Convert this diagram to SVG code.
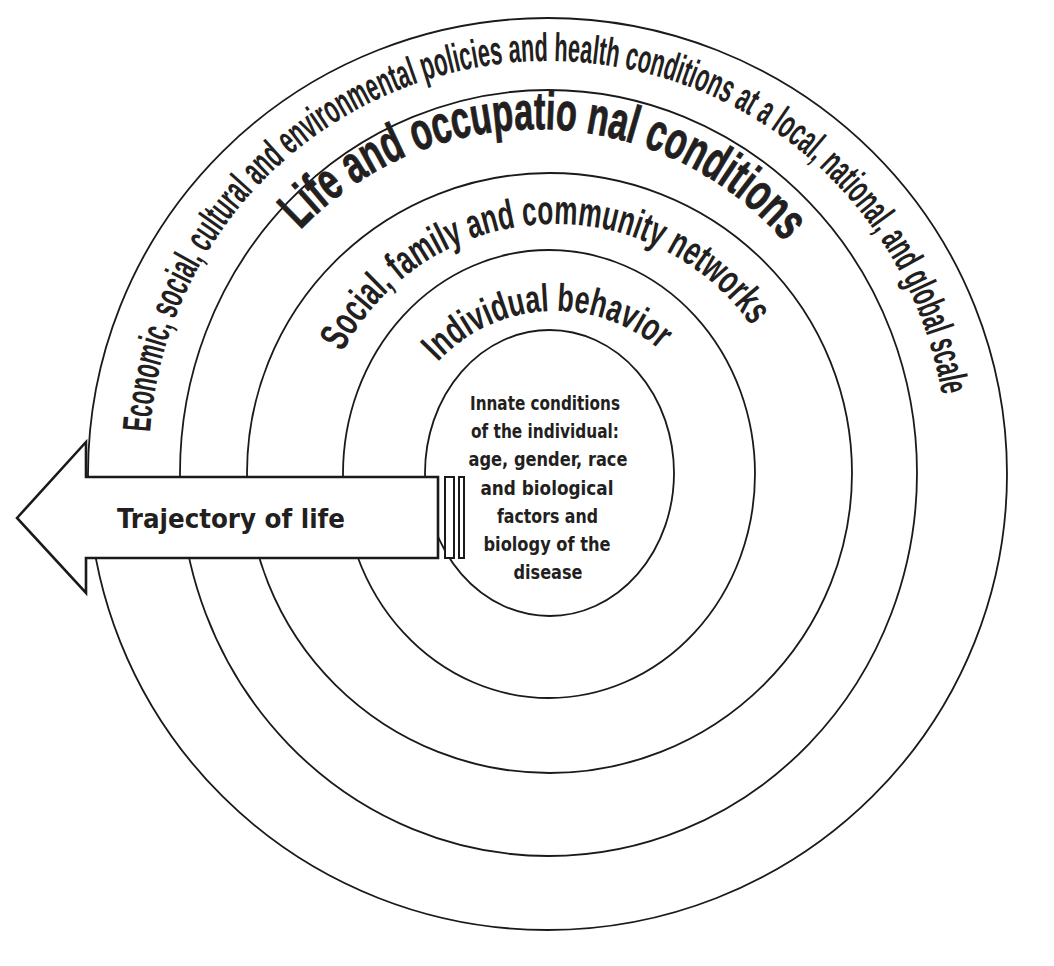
<svg xmlns="http://www.w3.org/2000/svg" width="1054" height="966" viewBox="0 0 1054 966">
<defs>
<style>
.ring{fill:none;stroke:#1a1a1a;stroke-width:1.8}
.arc{font-family:"Liberation Sans Narrow","Liberation Sans",Arial,sans-serif;font-weight:bold;fill:#231f20}
.heavy{stroke:#231f20;stroke-width:0.9}
.inner{font-family:"DejaVu Sans Condensed","DejaVu Sans",sans-serif;font-weight:bold;font-size:19px;fill:#231f20;text-anchor:middle}
.shape{fill:#fff;stroke:#1a1a1a;stroke-width:2.6;stroke-linejoin:miter}
.bar{fill:#fff;stroke:#1a1a1a;stroke-width:2}
.traj{font-family:"DejaVu Sans Condensed","DejaVu Sans",sans-serif;font-weight:bold;font-size:27px;fill:#231f20}
</style>
<path id="p1" d="M150,432.2 A399,399 0 0 1 942,396.9"/>
<path id="p2" d="M300.3,230 A328,328 0 0 1 785.3,242.7"/>
<path id="p3" d="M342.8,351.9 A240,240 0 0 1 752.1,327"/>
<path id="p4" d="M437.9,361.9 A160,160 0 0 1 659.9,350.1"/>
</defs>
<rect width="1054" height="966" fill="#fff"/>
<g id="ring-global">
<ellipse class="ring" cx="547.5" cy="474" rx="459.5" ry="456"/>
<text class="arc" font-size="40"><textPath href="#p1" textLength="1160" lengthAdjust="spacingAndGlyphs">Economic, social, cultural and environmental policies and health conditions at a local, national, and global scale</textPath></text>
</g>
<g id="ring-life">
<ellipse class="ring" cx="548.5" cy="473" rx="368.5" ry="383"/>
<text class="arc heavy" font-size="53"><textPath href="#p2" textLength="545" lengthAdjust="spacingAndGlyphs">Life and occupatio nal conditions</textPath></text>
</g>
<g id="ring-social">
<ellipse class="ring" cx="549.5" cy="473" rx="302.5" ry="300"/>
<text class="arc" font-size="41"><textPath href="#p3" textLength="490" lengthAdjust="spacingAndGlyphs">Social, family and community networks</textPath></text>
</g>
<g id="ring-behavior">
<ellipse class="ring" cx="549" cy="474" rx="206" ry="224"/>
<text class="arc" font-size="39"><textPath href="#p4" textLength="245" lengthAdjust="spacingAndGlyphs">Individual behavior</textPath></text>
</g>
<g id="core">
<ellipse class="ring" cx="549.5" cy="473" rx="124.5" ry="143"/>
</g>
<g id="trajectory">
<path class="shape" d="M17,518 L86,442 L86,477 L438,477 L438,558 L86,558 L86,593 Z"/>
<rect class="bar" x="445" y="477" width="9" height="81"/>
<rect class="bar" x="459" y="477" width="5" height="81"/>
<text class="traj" x="117" y="528" textLength="228" lengthAdjust="spacingAndGlyphs">Trajectory of life</text>
</g>
<g id="core-label">
<text class="inner" x="545" y="410" textLength="150" lengthAdjust="spacingAndGlyphs">Innate conditions</text>
<text class="inner" x="545" y="438.2" textLength="148" lengthAdjust="spacingAndGlyphs">of the individual:</text>
<text class="inner" x="548" y="466.4" textLength="159" lengthAdjust="spacingAndGlyphs">age, gender, race</text>
<text class="inner" x="547" y="494.6" textLength="133" lengthAdjust="spacingAndGlyphs">and biological</text>
<text class="inner" x="547.5" y="522.8" textLength="101" lengthAdjust="spacingAndGlyphs">factors and</text>
<text class="inner" x="547" y="551" textLength="127" lengthAdjust="spacingAndGlyphs">biology of the</text>
<text class="inner" x="548" y="579.2" textLength="69" lengthAdjust="spacingAndGlyphs">disease</text>
</g>
<g id="connectors"/>
</svg>
